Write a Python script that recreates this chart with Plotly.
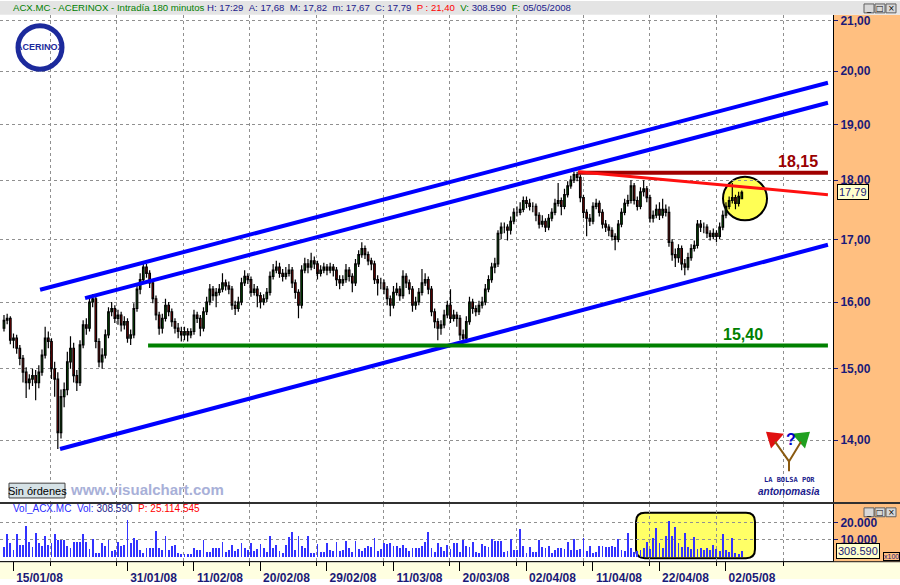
import math
import plotly.graph_objects as go

# ---------------- data ----------------
trading_days = [
    "14/01/08", "15/01/08", "16/01/08", "17/01/08", "18/01/08", "21/01/08", "22/01/08", "23/01/08",
    "24/01/08", "25/01/08", "28/01/08", "29/01/08", "30/01/08", "31/01/08",
    "01/02/08", "04/02/08", "05/02/08", "06/02/08", "07/02/08", "08/02/08", "11/02/08", "12/02/08",
    "13/02/08", "14/02/08", "15/02/08", "18/02/08", "19/02/08", "20/02/08", "21/02/08", "22/02/08",
    "25/02/08", "26/02/08", "27/02/08", "28/02/08", "29/02/08",
    "03/03/08", "04/03/08", "05/03/08", "06/03/08", "07/03/08", "10/03/08", "11/03/08", "12/03/08",
    "13/03/08", "14/03/08", "17/03/08", "18/03/08", "19/03/08", "20/03/08", "25/03/08", "26/03/08",
    "27/03/08", "28/03/08", "31/03/08",
    "01/04/08", "02/04/08", "03/04/08", "04/04/08", "07/04/08", "08/04/08", "09/04/08", "10/04/08",
    "11/04/08", "14/04/08", "15/04/08", "16/04/08", "17/04/08", "18/04/08", "21/04/08", "22/04/08",
    "23/04/08", "24/04/08", "25/04/08", "28/04/08", "29/04/08", "30/04/08",
    "02/05/08", "05/05/08",
]
bars_per_day = 3  # 180-minute bars

date_tick_labels = ["15/01/08", "31/01/08", "11/02/08", "20/02/08", "29/02/08", "11/03/08",
                    "20/03/08", "02/04/08", "11/04/08", "22/04/08", "02/05/08"]

bar_open = [
    15.60, 15.72, 15.75, 15.42, 15.45, 15.30,   15.15, 14.95, 14.80, 14.85, 14.90, 14.80,
    14.95, 15.20, 15.45, 15.40, 15.00, 14.85,   14.10, 14.60, 14.70, 15.10, 15.30, 14.90,
    14.80, 15.35, 15.65, 15.60, 16.00, 16.05,   15.40, 15.10, 15.20, 15.50, 15.85, 15.90,
    15.75, 15.80, 15.65, 15.70, 15.45, 15.50,   15.90, 16.20, 16.35, 16.55, 16.45, 16.30,
    16.05, 15.80, 15.60, 15.75, 15.95, 15.85,   15.70, 15.60, 15.55, 15.50, 15.55, 15.50,
    15.55, 15.80, 15.75, 15.60, 15.85, 16.00,   16.20, 16.10, 16.15, 16.20, 16.30, 16.25,
    16.20, 15.95, 15.90, 16.00, 16.30, 16.40,   16.35, 16.15, 16.20, 16.10, 16.00, 16.05,
    16.15, 16.40, 16.50, 16.55, 16.45, 16.40,   16.45, 16.50, 16.30, 16.15, 15.95, 16.50,
    16.60, 16.55, 16.65, 16.60, 16.45, 16.50,   16.55, 16.50, 16.55, 16.50, 16.35, 16.30,
    16.35, 16.50, 16.40, 16.30, 16.60, 16.75,   16.85, 16.75, 16.65, 16.60, 16.35, 16.30,
    16.30, 16.20, 16.05, 15.95, 16.15, 16.20,   16.10, 16.40, 16.30, 16.20, 15.95, 16.00,
    16.15, 16.30, 16.35, 16.20, 15.85, 15.70,   15.60, 15.65, 15.80, 15.95, 15.75, 15.80,
    15.75, 15.50, 15.45, 15.70, 16.00, 15.90,   15.85, 15.95, 16.00, 16.20, 16.35, 16.55,
    16.60, 17.10, 17.20, 17.20, 17.15, 17.30,   17.45, 17.45, 17.50, 17.65, 17.60, 17.55,
    17.55, 17.40, 17.25, 17.30, 17.20, 17.35,   17.45, 17.60, 17.65, 17.55, 17.75, 17.90,
    18.00, 18.10, 18.05, 17.70, 17.45, 17.35,   17.30, 17.55, 17.60, 17.45, 17.25, 17.20,
    17.15, 17.05, 17.00, 17.25, 17.45, 17.60,   17.65, 17.90, 17.65, 17.55, 17.80, 17.85,
    17.70, 17.35, 17.40, 17.50, 17.40, 17.50,   17.45, 16.95, 16.75, 16.70, 16.85, 16.60,
    16.55, 16.70, 16.85, 16.90, 17.25, 17.20,   17.20, 17.10, 17.05, 17.10, 17.05, 17.20,
    17.40, 17.55, 17.65, 17.70, 17.60, 17.68,
]
bar_high = [
    15.80, 15.82, 15.78, 15.52, 15.50, 15.35,   15.20, 15.02, 14.92, 15.00, 14.98, 15.05,
    15.28, 15.62, 15.55, 15.45, 15.10, 14.95,   14.70, 14.80, 15.25, 15.48, 15.38, 14.98,
    15.42, 15.72, 15.75, 16.08, 16.12, 16.08,   15.45, 15.30, 15.58, 15.92, 16.00, 15.95,
    15.88, 15.85, 15.78, 15.75, 15.58, 15.98,   16.28, 16.45, 16.62, 16.60, 16.50, 16.35,
    16.10, 15.85, 15.82, 16.05, 16.00, 15.90,   15.75, 15.68, 15.62, 15.62, 15.60, 15.60,
    15.88, 15.85, 15.80, 15.92, 16.08, 16.28,   16.25, 16.22, 16.28, 16.45, 16.35, 16.32,
    16.25, 16.02, 16.08, 16.38, 16.50, 16.45,   16.40, 16.28, 16.25, 16.15, 16.12, 16.22,
    16.48, 16.60, 16.65, 16.62, 16.52, 16.55,   16.60, 16.55, 16.35, 16.20, 16.58, 16.70,
    16.68, 16.78, 16.72, 16.65, 16.58, 16.62,   16.60, 16.62, 16.60, 16.55, 16.42, 16.42,
    16.60, 16.55, 16.45, 16.68, 16.82, 16.95,   16.90, 16.80, 16.70, 16.65, 16.42, 16.38,
    16.35, 16.25, 16.10, 16.25, 16.30, 16.25,   16.50, 16.45, 16.35, 16.25, 16.08, 16.22,
    16.52, 16.45, 16.40, 16.25, 15.90, 15.75,   15.72, 15.88, 16.02, 16.20, 15.88, 15.85,
    15.80, 15.58, 15.78, 16.08, 16.05, 15.95,   16.02, 16.08, 16.28, 16.42, 16.62, 16.70,
    17.15, 17.28, 17.28, 17.25, 17.38, 17.52,   17.55, 17.62, 17.72, 17.72, 17.68, 17.62,
    17.60, 17.45, 17.40, 17.35, 17.42, 17.52,   17.68, 17.95, 17.70, 17.85, 17.98, 18.08,
    18.15, 18.15, 18.10, 17.75, 17.50, 17.42,   17.62, 17.68, 17.65, 17.50, 17.32, 17.25,
    17.20, 17.10, 17.32, 17.52, 17.68, 17.75,   18.00, 17.95, 17.72, 17.88, 18.00, 17.90,
    17.75, 17.48, 17.58, 17.62, 17.68, 17.58,   17.55, 17.00, 16.85, 16.92, 16.90, 16.68,
    16.78, 16.92, 16.98, 17.32, 17.32, 17.28,   17.25, 17.15, 17.18, 17.15, 17.28, 17.48,
    17.62, 17.72, 17.95, 17.75, 17.80, 17.82,
]
bar_low = [
    15.55, 15.66, 15.36, 15.30, 15.22, 15.05,   14.80, 14.58, 14.70, 14.75, 14.55, 14.72,
    14.90, 15.15, 15.30, 14.85, 14.60, 13.88,   14.02, 14.45, 14.62, 15.00, 14.80, 14.68,
    14.75, 15.30, 15.50, 15.55, 15.92, 15.30,   15.02, 15.00, 15.15, 15.45, 15.78, 15.68,
    15.65, 15.55, 15.58, 15.38, 15.35, 15.45,   15.85, 16.12, 16.30, 16.38, 16.22, 15.98,
    15.72, 15.50, 15.52, 15.70, 15.78, 15.62,   15.52, 15.45, 15.40, 15.42, 15.40, 15.45,
    15.50, 15.68, 15.48, 15.55, 15.80, 15.95,   16.02, 15.92, 16.10, 16.15, 16.18, 16.12,
    15.88, 15.80, 15.85, 15.95, 16.25, 16.28,   16.08, 16.10, 15.92, 15.90, 15.95, 16.00,
    16.10, 16.35, 16.45, 16.38, 16.32, 16.35,   16.40, 16.22, 16.05, 15.75, 15.90, 16.45,
    16.45, 16.50, 16.52, 16.35, 16.40, 16.45,   16.42, 16.45, 16.40, 16.25, 16.20, 16.25,
    16.30, 16.32, 16.15, 16.25, 16.55, 16.70,   16.68, 16.58, 16.50, 16.28, 16.10, 16.20,
    16.12, 15.95, 15.78, 15.90, 16.10, 16.02,   16.05, 16.22, 16.12, 15.85, 15.88, 15.95,
    16.10, 16.25, 16.12, 15.78, 15.60, 15.42,   15.50, 15.60, 15.75, 15.68, 15.70, 15.62,
    15.42, 15.38, 15.40, 15.65, 15.82, 15.78,   15.80, 15.90, 15.95, 16.15, 16.30, 16.45,
    16.55, 17.00, 17.10, 16.98, 17.08, 17.25,   17.38, 17.40, 17.45, 17.52, 17.48, 17.45,
    17.30, 17.18, 17.20, 17.12, 17.15, 17.30,   17.40, 17.55, 17.40, 17.50, 17.70, 17.85,
    17.95, 17.98, 17.62, 17.35, 17.05, 17.22,   17.25, 17.50, 17.38, 17.18, 17.12, 17.05,
    16.98, 16.82, 16.95, 17.20, 17.40, 17.55,   17.60, 17.58, 17.48, 17.50, 17.72, 17.62,
    17.28, 17.28, 17.35, 17.32, 17.35, 17.38,   16.88, 16.65, 16.55, 16.62, 16.50, 16.42,
    16.50, 16.65, 16.80, 16.85, 17.12, 17.10,   17.02, 16.98, 17.00, 16.95, 17.00, 17.15,
    17.35, 17.50, 17.60, 17.50, 17.55, 17.67,
]
bar_close = [
    15.72, 15.75, 15.42, 15.45, 15.30, 15.15,   14.95, 14.80, 14.85, 14.90, 14.80, 14.95,
    15.20, 15.45, 15.40, 15.00, 14.85, 14.10,   14.60, 14.70, 15.10, 15.30, 14.90, 14.80,
    15.35, 15.65, 15.60, 16.00, 16.05, 15.40,   15.10, 15.20, 15.50, 15.85, 15.90, 15.75,
    15.80, 15.65, 15.70, 15.45, 15.50, 15.90,   16.20, 16.35, 16.55, 16.45, 16.30, 16.05,
    15.80, 15.60, 15.75, 15.95, 15.85, 15.70,   15.60, 15.55, 15.50, 15.55, 15.50, 15.55,
    15.80, 15.75, 15.60, 15.85, 16.00, 16.20,   16.10, 16.15, 16.20, 16.30, 16.25, 16.20,
    15.95, 15.90, 16.00, 16.30, 16.40, 16.35,   16.15, 16.20, 16.10, 16.00, 16.05, 16.15,
    16.40, 16.50, 16.55, 16.45, 16.40, 16.45,   16.50, 16.30, 16.15, 15.95, 16.50, 16.60,
    16.55, 16.65, 16.60, 16.45, 16.50, 16.55,   16.50, 16.55, 16.50, 16.35, 16.30, 16.35,
    16.50, 16.40, 16.30, 16.60, 16.75, 16.85,   16.75, 16.65, 16.60, 16.35, 16.30, 16.30,
    16.20, 16.05, 15.95, 16.15, 16.20, 16.10,   16.40, 16.30, 16.20, 15.95, 16.00, 16.15,
    16.30, 16.35, 16.20, 15.85, 15.70, 15.60,   15.65, 15.80, 15.95, 15.75, 15.80, 15.75,
    15.50, 15.45, 15.70, 16.00, 15.90, 15.85,   15.95, 16.00, 16.20, 16.35, 16.55, 16.60,
    17.10, 17.20, 17.20, 17.15, 17.30, 17.45,   17.45, 17.50, 17.65, 17.60, 17.55, 17.55,
    17.40, 17.25, 17.30, 17.20, 17.35, 17.45,   17.60, 17.65, 17.55, 17.75, 17.90, 18.00,
    18.10, 18.05, 17.70, 17.45, 17.35, 17.30,   17.55, 17.60, 17.45, 17.25, 17.20, 17.15,
    17.05, 17.00, 17.25, 17.45, 17.60, 17.65,   17.90, 17.65, 17.55, 17.80, 17.85, 17.70,
    17.35, 17.40, 17.50, 17.40, 17.50, 17.45,   16.95, 16.75, 16.70, 16.85, 16.60, 16.55,
    16.70, 16.85, 16.90, 17.25, 17.20, 17.20,   17.10, 17.05, 17.10, 17.05, 17.20, 17.40,
    17.55, 17.65, 17.70, 17.60, 17.72, 17.79,
]
volume_x100 = [
    5600, 13000, 7750, 3700, 13000, 6800, 6800, 17800, 8300, 5600,
    14000, 8100, 6200, 11800, 6800, 8100, 13400, 10000, 10000, 9900,
    6400, 4800, 8300, 8300, 8300, 13000, 8500, 4300, 10300, 2300,
    2100, 8100, 6000, 10000, 3300, 3700, 8300, 6200, 6800, 21700,
    8100, 10700, 9900, 3700, 2300, 5200, 5200, 5200, 14900, 5200,
    4100, 12200, 3700, 6000, 6800, 1900, 1400, 1700, 1400, 1700,
    5200, 3700, 4100, 9700, 2900, 2900, 4800, 5200, 4800, 8500,
    2900, 3700, 7000, 3300, 4300, 7900, 4800, 3700, 8100, 3300,
    4300, 7200, 4800, 2900, 11800, 4800, 6600, 3300, 2300, 7000,
    11400, 14500, 4100, 11800, 6200, 4800, 11800, 2100, 2100, 7200,
    2900, 2900, 8100, 3700, 3300, 8500, 3300, 3700, 9100, 4800,
    2500, 9100, 4500, 3300, 5200, 6400, 5600, 10700, 3300, 4500,
    7750, 7200, 7750, 6000, 6200, 4800, 7000, 4800, 3300, 5200,
    5200, 5200, 6200, 8300, 14500, 4800, 2500, 8100, 5400, 3600,
    6900, 4300, 8100, 8100, 2700, 9500, 6200, 5600, 8700, 2500,
    2300, 7600, 6200, 5600, 10300, 9100, 8900, 9100, 2500, 3300,
    10300, 4100, 4100, 16300, 6200, 2100, 5600, 2700, 2700, 9700,
    5600, 4800, 6200, 2100, 3800, 5000, 4800, 4300, 8500, 4100,
    10300, 3900, 4300, 10700, 3300, 6400, 2300, 2900, 6200, 6200,
    5600, 5600, 6200, 5600, 10300, 3700, 3300, 14000, 5200, 2900,
    3300, 3700, 5200, 8700, 4500, 11000, 16500, 7750, 5200, 12200,
    21100, 11800, 17400, 8100, 5600, 14000, 5600, 4500, 11400, 4300,
    5200, 4100, 5200, 4100, 6600, 4300, 3300, 13400, 3700, 2900,
    10700, 2100, 1400, 3086,
]

price_tick_values = [14, 15, 16, 17, 18, 19, 20, 21]
price_tick_labels = ["14,00", "15,00", "16,00", "17,00", "18,00", "19,00", "20,00", "21,00"]
vol_tick_values = [10000, 20000]
vol_tick_labels = ["10.000", "20.000"]

# analyst drawings: (bar index, price)
upper_channel_a = ([11.4, 260.2], [16.19, 19.78])
upper_channel_b = ([25.6, 260.2], [16.06, 19.40])
lower_channel = ([17.7, 260.2], [13.88, 16.91])
support_line = ([45.5, 260.2], [15.34, 15.34])
resistance_line = ([181.3, 260.2], [18.13, 18.13])
falling_line = ([181.3, 260.2], [18.15, 17.75])

# ---------------- figure ----------------
W, H = 900, 585
NAVY = "#1a1a78"


def px(x):
    return x / W


def py(y):
    return 1 - y / H


X_R = px(833)
n = len(bar_close)
idx = list(range(n))
date_tick_pos = [bars_per_day * trading_days.index(d) for d in date_tick_labels]

fig = go.Figure()

fig.add_trace(go.Candlestick(
    x=idx, open=bar_open, high=bar_high, low=bar_low, close=bar_close,
    increasing=dict(line=dict(color="black", width=1.2), fillcolor="#008800"),
    decreasing=dict(line=dict(color="black", width=1.2), fillcolor="#dd0000"),
    whiskerwidth=0, hoverinfo="skip", showlegend=False, xaxis="x", yaxis="y",
))

for (lx, ly), col, wd in [
    (upper_channel_a, "#0000ff", 4), (upper_channel_b, "#0000ff", 4), (lower_channel, "#0000ff", 4),
    (support_line, "#008000", 4), (resistance_line, "#a00000", 4), (falling_line, "#ff1010", 3),
]:
    fig.add_trace(go.Scatter(x=lx, y=ly, mode="lines", line=dict(color=col, width=wd),
                             hoverinfo="skip", showlegend=False, xaxis="x", yaxis="y"))

fig.add_trace(go.Bar(x=idx, y=volume_x100, width=0.3, marker=dict(color="#3333ff", line=dict(width=0)),
                     hoverinfo="skip", showlegend=False, xaxis="x2", yaxis="y2"))

grid = dict(showgrid=True, gridcolor="#909090", griddash="dot", gridwidth=1)

fig.update_layout(
    width=W, height=H, margin=dict(l=0, r=0, t=0, b=0),
    paper_bgcolor="white", plot_bgcolor="white", showlegend=False,
    bargap=0,
    xaxis=dict(domain=[0, X_R], range=[-1.26, 261.8], anchor="y", tickmode="linear", tick0=14.53,
               dtick=21.05, showticklabels=False, ticks="", zeroline=False, showline=True,
               linecolor="#303030", linewidth=2, rangeslider=dict(visible=False), fixedrange=True, **grid),
    yaxis=dict(domain=[py(507), py(14)], type="log",
               range=[math.log10(13.187), math.log10(21.122)], side="right", anchor="x",
               tickmode="array", tickvals=price_tick_values,
               ticktext=["<b>%s</b>" % t for t in price_tick_labels],
               ticks="outside", ticklen=4, tickcolor=NAVY,
               tickfont=dict(family="Arial", size=12, color=NAVY),
               showline=True, linecolor="black", linewidth=1, zeroline=False, fixedrange=True, **grid),
    xaxis2=dict(domain=[0, X_R], anchor="y2", matches="x", tickmode="array", tickvals=date_tick_pos,
                ticktext=["<b>%s</b>" % t for t in date_tick_labels], ticks="outside", ticklen=9,
                tickcolor="black", tickfont=dict(family="Arial", size=12, color=NAVY),
                ticklabelshift=26, ticklabelstandoff=-4, showgrid=False, zeroline=False,
                showline=True, linecolor="black", linewidth=1, fixedrange=True,
                minor=dict(tickmode="linear", tick0=14.53, dtick=21.05, ticks="outside", ticklen=4,
                           tickcolor="black", showgrid=True, gridcolor="#909090", griddash="dot")),
    yaxis2=dict(domain=[py(567), py(509)], range=[-2717, 30807], side="right", anchor="x2",
                tickmode="array", tickvals=vol_tick_values,
                ticktext=["<b>%s</b>" % t for t in vol_tick_labels],
                ticks="outside", ticklen=4, tickcolor=NAVY,
                tickfont=dict(family="Arial", size=12, color=NAVY),
                showline=True, linecolor="black", linewidth=1, zeroline=False, fixedrange=True, **grid),
)

shapes = []
shapes.append(dict(type="rect", xref="paper", yref="paper", x0=X_R, x1=1, y0=py(568), y1=py(14),
                   fillcolor="#ffbf80", line=dict(width=0), layer="below"))
shapes.append(dict(type="rect", xref="paper", yref="paper", x0=0, x1=1, y0=py(14), y1=1,
                   fillcolor="#e4e4e4", line=dict(width=0), layer="below"))
shapes.append(dict(type="rect", xref="paper", yref="paper", x0=0, x1=1, y0=0, y1=py(568),
                   fillcolor="#ffffe1", line=dict(width=0), layer="below"))
shapes.append(dict(type="line", xref="paper", yref="paper", x0=0, x1=1, y0=py(508), y1=py(508),
                   line=dict(color="#303030", width=2)))
shapes.append(dict(type="line", xref="paper", yref="paper", x0=0, x1=1, y0=py(567.5), y1=py(567.5),
                   line=dict(color="#202020", width=1)))
shapes.append(dict(type="circle", xref="paper", yref="paper", x0=px(723), x1=px(767), y0=py(222),
                   y1=py(178), fillcolor="#ffff55", line=dict(color="black", width=2), layer="below"))
x0, x1, y0, y1 = px(636), px(755), py(564), py(518)
rx, ry = 9 / W, 9 / H
path = ("M %f,%f L %f,%f Q %f,%f %f,%f L %f,%f Q %f,%f %f,%f L %f,%f Q %f,%f %f,%f L %f,%f Q %f,%f %f,%f Z" % (
    x0 + rx, y0, x1 - rx, y0, x1, y0, x1, y0 + ry, x1, y1 - ry, x1, y1, x1 - rx, y1,
    x0 + rx, y1, x0, y1, x0, y1 - ry, x0, y0 + ry, x0, y0, x0 + rx, y0))
shapes.append(dict(type="path", xref="paper", yref="paper", path=path, fillcolor="#ffff66",
                   line=dict(color="black", width=2), layer="below"))
shapes.append(dict(type="circle", xref="paper", yref="paper", x0=px(18), x1=px(62), y0=py(69),
                   y1=py(25), line=dict(color="#1c2a9c", width=5)))
shapes.append(dict(type="rect", xref="paper", yref="paper", x0=px(9), x1=px(65), y0=py(503), y1=py(488),
                   fillcolor="#d6e2e6", line=dict(color="#404040", width=1)))
for yy in (3, 513):
    for xx in (864, 875, 886):
        shapes.append(dict(type="rect", xref="paper", yref="paper", x0=px(xx), x1=px(xx + 10),
                           y0=py(yy + 9), y1=py(yy), fillcolor="#d8d8d8", line=dict(color="#606060", width=1)))
shapes.append(dict(type="path", xref="paper", yref="paper",
                   path="M %f,%f L %f,%f L %f,%f Z" % (px(766), py(436), px(784), py(438), px(771), py(453)),
                   fillcolor="#e01010", line=dict(width=0)))
shapes.append(dict(type="path", xref="paper", yref="paper",
                   path="M %f,%f L %f,%f L %f,%f Z" % (px(810), py(436), px(792), py(438), px(805), py(453)),
                   fillcolor="#20a020", line=dict(width=0)))
shapes.append(dict(type="path", xref="paper", yref="paper",
                   path="M %f,%f L %f,%f L %f,%f M %f,%f L %f,%f" % (
                       px(775), py(446), px(789), py(466), px(801), py(446), px(789), py(466), px(789), py(476)),
                   line=dict(color="#8a5a10", width=2)))
fig.update_layout(shapes=shapes)


def note(text, x, y, size, color, family="Arial", **kw):
    d = dict(text=text, xref="paper", yref="paper", x=px(x), y=py(y), xanchor="center",
             yanchor="middle", showarrow=False, font=dict(family=family, size=size, color=color))
    d.update(kw)
    return d


ann = []
hdr = ("<span style='color:#008000'>ACX.MC - ACERINOX - Intradía 180 minutos</span> "
       "<span style='color:#1a1a8c'>H: 17:29 &nbsp;A: 17,68 &nbsp;M: 17,82 &nbsp;m: 17,67 &nbsp;C: 17,79</span> "
       "&nbsp;<span style='color:#ff0000'>P : 21,40</span> &nbsp;"
       "<span style='color:#008000'>V: </span><span style='color:#1a1a8c'>308.590</span> &nbsp;"
       "<span style='color:#008000'>F: </span><span style='color:#1a1a8c'>05/05/2008</span>")
ann.append(note(hdr, 11, 7, 9.6, "#1a1a8c", xanchor="left"))
vol_hdr = ("<span style='color:#2a2aff'>Vol_ACX.MC &nbsp;Vol: </span><span style='color:#1a1a8c'>308.590</span> &nbsp;"
           "<span style='color:#ff0000'>P: 25.114.545</span>")
ann.append(note(vol_hdr, 11, 514, 10, "#1a1a8c", xanchor="left"))
for txt, xx in (("_", 869), ("□", 880), ("×", 891)):
    for yy in (7.5, 517.5):
        ann.append(note(txt, xx, yy, 8, "black", family="DejaVu Sans"))
ann.append(note("<b>18,15</b>", 798, 162, 16, "#9a0000"))
ann.append(note("<b>15,40</b>", 743, 338, 16, "#008000"))
ann.append(dict(text="17,79", xref="paper", yref="y", x=px(853), y=math.log10(bar_close[-1]),
                xanchor="center", yanchor="middle", showarrow=False, bgcolor="#ffffcc",
                bordercolor="black", borderwidth=1, borderpad=1,
                font=dict(family="Arial", size=11, color=NAVY)))
ann.append(dict(text="308.590", xref="paper", yref="y2", x=px(858), y=volume_x100[-1],
                xanchor="center", yanchor="middle", showarrow=False, bgcolor="#ffffcc",
                bordercolor="black", borderwidth=1, borderpad=1,
                font=dict(family="Arial", size=11, color=NAVY)))
ann.append(note("x100", 891, 562, 7, NAVY, bordercolor="black", borderwidth=1, borderpad=0,
                bgcolor="#ffbf80"))
ann.append(note("<b>ACERINOX</b>", 40, 47, 9, "#1c2a9c", family="Liberation Sans Narrow, Arial"))
ann.append(note("Sin órdenes", 37, 495.5, 11, "black"))
ann.append(note("<b>www.visualchart.com</b>", 147, 494, 15, "#a8b0d8"))
ann.append(note("<b>?</b>", 791, 444, 16, "#0000cc"))
ann.append(note("<b>LA BOLSA POR</b>", 789, 485, 7, "#1a1a8c", family="DejaVu Sans Mono"))
ann.append(note("<b><i>antonomasia</i></b>", 789, 496, 10, "#1a1a8c"))
fig.update_layout(annotations=ann)

fig.write_html("out.html", config={"displayModeBar": False},
               post_script="document.body.style.margin='0px';document.body.style.padding='0px';")
